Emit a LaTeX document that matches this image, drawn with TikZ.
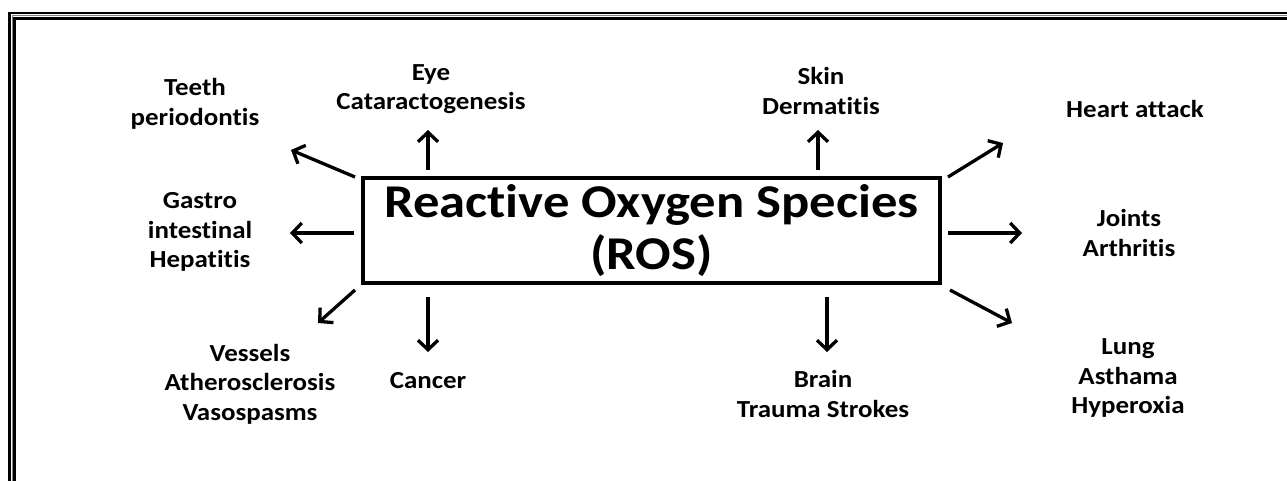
\documentclass[tikz,border=0pt]{standalone}
\usepackage{fontspec}
\setmainfont{Carlito}[Ligatures=CommonOff]
\newfontfamily\lblfont{Carlito}[FakeStretch=1.1, Ligatures=CommonOff]
\newfontfamily\bigfont{Carlito}[FakeStretch=1.12, Ligatures=CommonOff]
\usetikzlibrary{arrows.meta}
\begin{document}
\begin{tikzpicture}[x=1pt,y=-1pt,
  lbl/.style={font=\lblfont\bfseries\fontsize{24.5}{29.5}\selectfont, align=center, inner sep=0pt},
  big/.style={draw, line width=4pt, minimum width=577pt, minimum height=105pt, inner sep=0pt,
    align=center, font=\bigfont\bfseries\fontsize{47}{52}\selectfont},
  arr/.style={line width=3.3pt, -{Straight Barb[length=9.5pt,width=20pt,line width=3.3pt]}},
  frameline/.style={line join=miter}]
\useasboundingbox (0,0) rectangle (1287,481);
% frame
\draw[frameline, line width=2.5pt] (9.3,481) -- (9.3,13.2) -- (1287,13.2);
\draw[frameline, line width=1pt, gray] (12.2,481) -- (12.2,15.8) -- (1287,15.8);
\draw[frameline, line width=2.4pt] (14.5,481) -- (14.5,18.5) -- (1287,18.5);
% central box
\node[big] (ros) at (651.5,230.5) {Reactive Oxygen Species\\(ROS)};
% labels
\node[lbl] (teeth) at (195,104) {Teeth\\periodontis};
\node[lbl] (eye) at (431,89) {Eye\\Cataractogenesis};
\node[lbl] (skin) at (821,91) {Skin\\Dermatitis};
\node[lbl] (heart) at (1135,109) {Heart attack};
\node[lbl] (gastro) at (200,232) {Gastro\\intestinal\\Hepatitis};
\node[lbl] (joints) at (1129,233) {Joints\\Arthritis};
\node[lbl] (vessels) at (250,384) {Vessels\\Atherosclerosis\\Vasospasms};
\node[lbl] (cancer) at (428,381) {Cancer};
\node[lbl] (brain) at (823,394) {Brain\\Trauma Strokes};
\node[lbl] (lung) at (1128,378) {Lung\\Asthama\\Hyperoxia};
% arrow end points
\coordinate (t0) at (355,177); \coordinate (t1) at (291,150);
\coordinate (e0) at (428,170); \coordinate (e1) at (428,130);
\coordinate (s0) at (818,170); \coordinate (s1) at (818,130);
\coordinate (h0) at (948,177); \coordinate (h1) at (1003,143);
\coordinate (g0) at (354,233); \coordinate (g1) at (290,233);
\coordinate (j0) at (948,233); \coordinate (j1) at (1022,233);
\coordinate (v0) at (355,290); \coordinate (v1) at (318,323);
\coordinate (c0) at (428,297); \coordinate (c1) at (428,352);
\coordinate (b0) at (827,297); \coordinate (b1) at (827,352);
\coordinate (l0) at (950,290); \coordinate (l1) at (1012,323);
\draw[arr] (t0) -- (t1);
\draw[arr] (e0) -- (e1);
\draw[arr] (s0) -- (s1);
\draw[arr] (h0) -- (h1);
\draw[arr] (g0) -- (g1);
\draw[arr] (j0) -- (j1);
\draw[arr] (v0) -- (v1);
\draw[arr] (c0) -- (c1);
\draw[arr] (b0) -- (b1);
\draw[arr] (l0) -- (l1);
\end{tikzpicture}
\end{document}
